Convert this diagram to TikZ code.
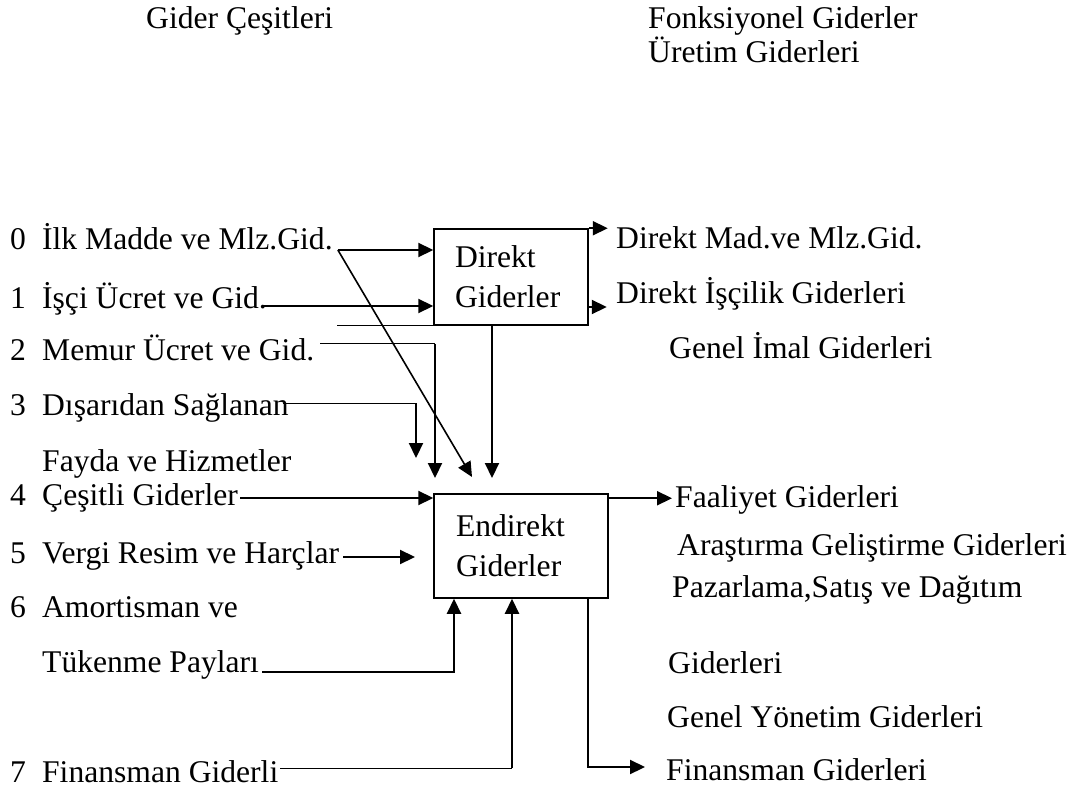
\documentclass[tikz,border=0pt]{standalone}
\usepackage{fontspec}
\setmainfont{Liberation Serif}
\usetikzlibrary{arrows.meta}
\newcommand{\nr}[1]{\makebox[32pt][l]{#1}}

\begin{document}
\begin{tikzpicture}[x=1pt,y=-1pt,
		yazi/.style={anchor=base west,inner sep=0pt,font=\fontsize{31.6}{40}\selectfont},
		kutu/.style={draw,line width=1.5pt,align=left,inner ysep=0pt,font=\fontsize{31.6}{40}\selectfont},
		ok/.style={line width=2.2pt,-{Triangle[length=15pt,width=14pt]}},
		ince/.style={line width=1pt}]
		\useasboundingbox (0,0) rectangle (1073,791);
		\node[yazi] (baslik) at (146,29) {Gider Çeşitleri};
		\node[yazi] (fonk) at (648,29) {Fonksiyonel Giderler};
		\node[yazi] (uretim) at (648,63) {Üretim Giderleri};
		\node[kutu,text width=112pt,inner xsep=21pt,minimum height=96pt] (direkt) at (511,277) {Direkt\\Giderler};
		\node[kutu,text width=130pt,inner xsep=22pt,minimum height=104pt] (endirekt) at (521,546) {Endirekt\\Giderler};
		\node[yazi] (n0) at (10,250) {\nr{0}İlk Madde ve Mlz.Gid.};
		\node[yazi] (n1) at (10,309) {\nr{1}İşçi Ücret ve Gid.};
		\node[yazi] (n2) at (10,360) {\nr{2}Memur Ücret ve Gid.};
		\node[yazi] (n3) at (10,415) {\nr{3}Dışarıdan Sağlanan};
		\node[yazi] (n3b) at (42,471) {Fayda ve Hizmetler};
		\node[yazi] (n4) at (10,505) {\nr{4}Çeşitli Giderler};
		\node[yazi] (n5) at (10,563) {\nr{5}Vergi Resim ve Harçlar};
		\node[yazi] (n6) at (10,617) {\nr{6}Amortisman ve};
		\node[yazi] (n6b) at (42,672) {Tükenme Payları};
		\node[yazi] (n7) at (10,782) {\nr{7}Finansman Giderli};
		\node[yazi] (r0) at (616,249) {Direkt Mad.ve Mlz.Gid.};
		\node[yazi] (r1) at (616,304) {Direkt İşçilik Giderleri};
		\node[yazi] (r2) at (669,359) {Genel İmal Giderleri};
		\node[yazi] (r3) at (675,507) {Faaliyet Giderleri};
		\node[yazi] (r4) at (677,555) {Araştırma Geliştirme Giderleri};
		\node[yazi] (r5) at (672,597) {Pazarlama,Satış ve Dağıtım};
		\node[yazi] (r6) at (668,673) {Giderleri};
		\node[yazi] (r7) at (667,727) {Genel Yönetim Giderleri};
		\node[yazi] (r8) at (666,780) {Finansman Giderleri};
		\coordinate (d0) at (472,477);
		\coordinate (d2) at (435,478);
		\coordinate (d3) at (416,458);
		\coordinate (dd) at (492,478);
		\coordinate (v5) at (415,557);
		\draw[ok] ([xshift=5pt]n0.base east) -- (n0.base east -| direkt.west);
		\draw[ok,line width=1.6pt] ([xshift=5pt]n0.base east) -- (d0);
		\draw[ok] ([xshift=-4pt,yshift=3pt]n1.base east) -- ([yshift=3pt]n1.base east -| direkt.west);
		\draw[ince] (direkt.south west) -- ++(-96,0);
		\draw[ince] ([xshift=6pt,yshift=16pt]n2.base east) -- ([yshift=16pt]n2.base east -| d2);
		\draw[ok] ([yshift=16pt]n2.base east -| d2) -- (d2);
		\draw[ince] ([xshift=-6pt,yshift=12pt]n3.base east) -- ([yshift=12pt]n3.base east -| d3);
		\draw[ok] ([yshift=12pt]n3.base east -| d3) -- (d3);
		\draw[ok] (direkt.south -| dd) -- (dd);
		\draw[ok] ([xshift=2pt,yshift=7pt]n4.base east) -- ([yshift=7pt]n4.base east -| endirekt.west);
		\draw[ok] ([xshift=4pt,yshift=6pt]n5.base east) -- (v5);
		\draw[ok] ([xshift=3pt]n6b.base east) -| ([xshift=-67pt]endirekt.south);
		\draw[ince] ([xshift=2pt,yshift=14pt]n7.base east) -- ([xshift=-9pt,yshift=14pt]endirekt.south |- n7.base east);
		\draw[ok] ([xshift=-9pt,yshift=14pt]endirekt.south |- n7.base east) -- ([xshift=-9pt]endirekt.south);
		\draw[ok] (direkt.north east) -- ++(19,0);
		\draw[ok] ([yshift=-30pt]direkt.east) -- ++(18,0);
		\draw[ok] ([yshift=-5pt]endirekt.north east) -- ([xshift=-3pt,yshift=-5pt]endirekt.north east -| r3.west);
		\draw[ok] ([xshift=67pt]endirekt.south) |- ([xshift=-21pt,yshift=13pt]r8.base west);
	\end{tikzpicture}
\end{document}
